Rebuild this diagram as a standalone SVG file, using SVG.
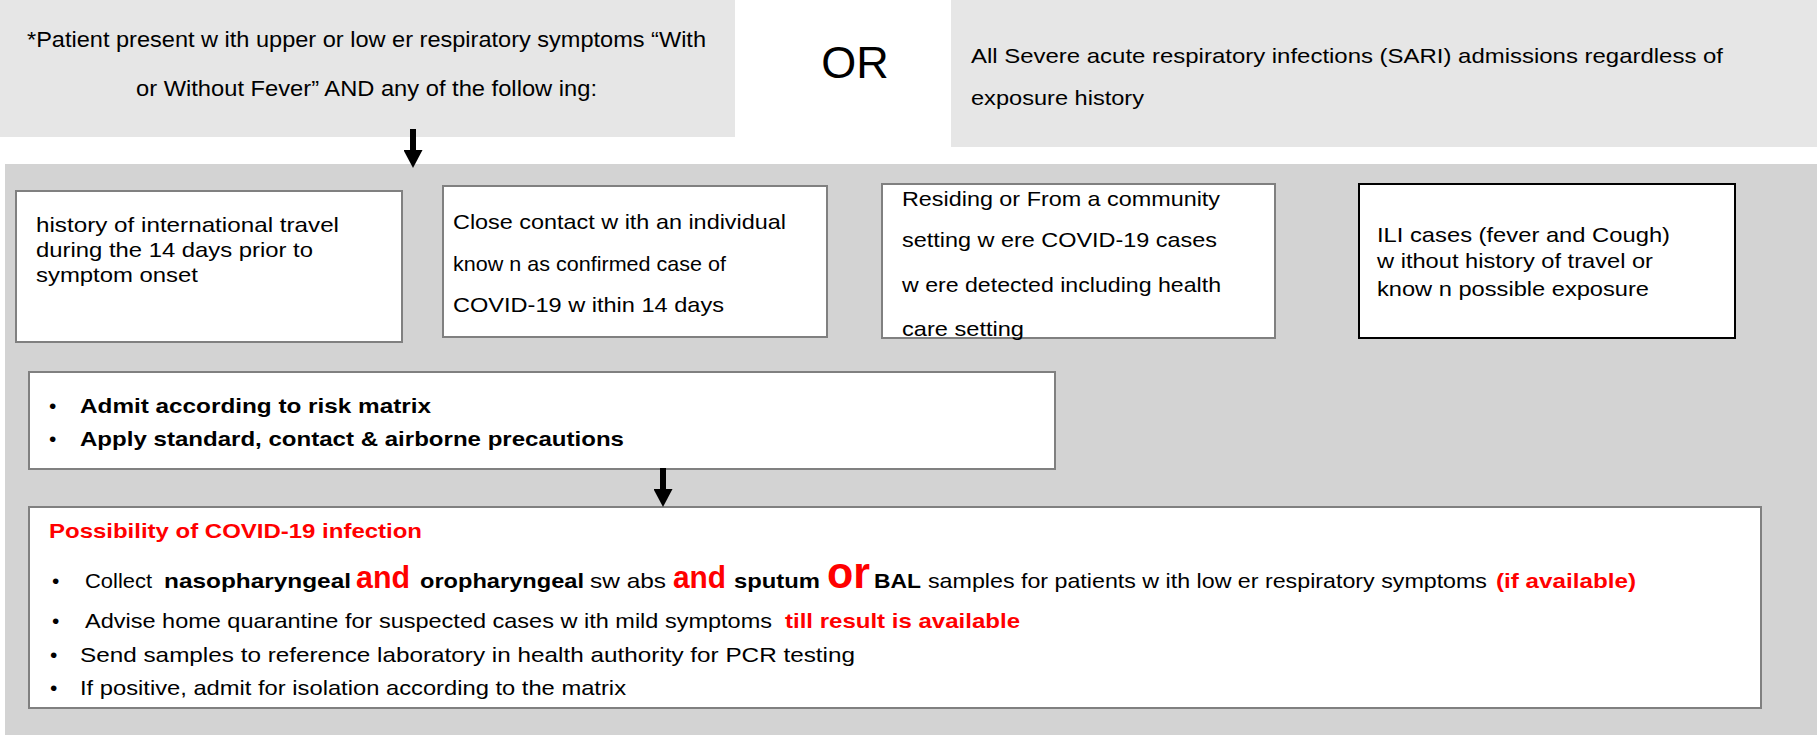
<svg xmlns="http://www.w3.org/2000/svg" width="1817" height="735" viewBox="0 0 1817 735">
<style>
text{font-family:"Liberation Sans",Arial,sans-serif;font-size:21px;fill:#000}
.b{font-weight:bold}
.r{fill:#ff0000;font-weight:bold}
.top{fill:#e6e6e6}
.box{fill:#fff;stroke:#808080;stroke-width:2}
.boxk{fill:#fff;stroke:#000;stroke-width:2}
.conn{stroke:#000;stroke-width:6;fill:none}
</style>
<defs>
<marker id="ah" markerUnits="userSpaceOnUse" markerWidth="18" markerHeight="19" viewBox="0 0 18 19" refX="0" refY="9.5" orient="auto">
<path d="M0,0 L18,9.5 L0,19 z" fill="#000"/>
</marker>
</defs>
<rect x="0" y="0" width="1817" height="735" fill="#fff"/>
<rect x="5" y="164" width="1812" height="571" fill="#d3d3d3"/>
<g id="patient">
<rect class="top" x="0" y="0" width="735" height="137"/>
<text x="27" y="47" textLength="679" lengthAdjust="spacingAndGlyphs" style="font-size:22px">*Patient  present w ith upper or low er respiratory symptoms  “With</text>
<text x="136" y="96" textLength="461" lengthAdjust="spacingAndGlyphs" style="font-size:22px">or Without  Fever” AND any of the follow ing:</text>
</g>
<g id="or">
<text x="855" y="78" text-anchor="middle" style="font-size:45px">OR</text>
</g>
<g id="sari">
<rect class="top" x="951" y="0" width="866" height="147"/>
<text x="971" y="63" textLength="752" lengthAdjust="spacingAndGlyphs">All Severe acute respiratory infections (SARI) admissions  regardless of</text>
<text x="971" y="105" textLength="173" lengthAdjust="spacingAndGlyphs">exposure history</text>
</g>
<g id="travel">
<rect class="box" x="16" y="191" width="386" height="151"/>
<text x="36" y="232" textLength="303" lengthAdjust="spacingAndGlyphs">history of international  travel</text>
<text x="36" y="257" textLength="277" lengthAdjust="spacingAndGlyphs">during the 14 days prior to</text>
<text x="36" y="282" textLength="162" lengthAdjust="spacingAndGlyphs">symptom  onset</text>
</g>
<g id="contact">
<rect class="box" x="443" y="186" width="384" height="151"/>
<text x="453" y="229" textLength="333" lengthAdjust="spacingAndGlyphs">Close  contact w ith an individual</text>
<text x="453" y="271" textLength="273" lengthAdjust="spacingAndGlyphs">know n as confirmed case of</text>
<text x="453" y="312" textLength="271" lengthAdjust="spacingAndGlyphs">COVID-19  w ithin 14 days</text>
</g>
<g id="community">
<rect class="box" x="882" y="184" width="393" height="154"/>
<text x="902" y="206" textLength="318" lengthAdjust="spacingAndGlyphs">Residing  or From a community</text>
<text x="902" y="247" textLength="315" lengthAdjust="spacingAndGlyphs">setting w ere COVID-19  cases</text>
<text x="902" y="292" textLength="319" lengthAdjust="spacingAndGlyphs">w ere detected including  health</text>
<text x="902" y="336" textLength="122" lengthAdjust="spacingAndGlyphs">care setting</text>
</g>
<g id="ili">
<rect class="boxk" x="1359" y="184" width="376" height="154"/>
<text x="1377" y="242" textLength="293" lengthAdjust="spacingAndGlyphs">ILI  cases (fever and Cough)</text>
<text x="1377" y="268" textLength="276" lengthAdjust="spacingAndGlyphs">w ithout history of travel or</text>
<text x="1377" y="296" textLength="272" lengthAdjust="spacingAndGlyphs">know n possible exposure</text>
</g>
<g id="admit">
<rect class="box" x="29" y="372" width="1026" height="97"/>
<text x="49" y="413">•</text>
<text class="b" x="80" y="413" textLength="351" lengthAdjust="spacingAndGlyphs">Admit according to risk matrix</text>
<text x="49" y="446">•</text>
<text class="b" x="80" y="446" textLength="544" lengthAdjust="spacingAndGlyphs">Apply standard, contact &amp; airborne precautions</text>
</g>
<g id="possibility">
<rect class="box" x="29" y="507" width="1732" height="201"/>
<text class="r" x="49" y="538" textLength="373" lengthAdjust="spacingAndGlyphs">Possibility of COVID-19  infection</text>
<text x="52" y="588">•</text>
<text x="85" y="588" textLength="67" lengthAdjust="spacingAndGlyphs">Collect</text>
<text class="b" x="164" y="588" textLength="187" lengthAdjust="spacingAndGlyphs">nasopharyngeal</text>
<text class="r" x="356" y="588" style="font-size:31px" textLength="54" lengthAdjust="spacingAndGlyphs">and</text>
<text class="b" x="420" y="588" textLength="164" lengthAdjust="spacingAndGlyphs">oropharyngeal</text>
<text x="590" y="588" textLength="76" lengthAdjust="spacingAndGlyphs">sw abs</text>
<text class="r" x="673" y="588" style="font-size:31px" textLength="53" lengthAdjust="spacingAndGlyphs">and</text>
<text class="b" x="734" y="588" textLength="86" lengthAdjust="spacingAndGlyphs">sputum</text>
<text class="r" x="827" y="588" style="font-size:44px" textLength="43" lengthAdjust="spacingAndGlyphs">or</text>
<text class="b" x="874" y="588" textLength="47" lengthAdjust="spacingAndGlyphs">BAL</text>
<text x="928" y="588" textLength="559" lengthAdjust="spacingAndGlyphs">samples  for patients  w ith low er respiratory symptoms</text>
<text class="r" x="1496" y="588" textLength="140" lengthAdjust="spacingAndGlyphs">(if available)</text>
<text x="52" y="628">•</text>
<text x="85" y="628" textLength="687" lengthAdjust="spacingAndGlyphs">Advise home quarantine for suspected cases w ith mild symptoms</text>
<text class="r" x="785" y="628" textLength="235" lengthAdjust="spacingAndGlyphs">till result is available</text>
<text x="50" y="662">•</text>
<text x="80" y="662" textLength="775" lengthAdjust="spacingAndGlyphs">Send samples  to reference laboratory in health authority  for PCR  testing</text>
<text x="50" y="695">•</text>
<text x="80" y="695" textLength="546" lengthAdjust="spacingAndGlyphs">If positive, admit for isolation according to the matrix</text>
</g>
<g id="connectors">
<path class="conn" d="M413,129 V150" marker-end="url(#ah)"/>
<path class="conn" d="M663,468 V489" marker-end="url(#ah)"/>
</g>
</svg>
